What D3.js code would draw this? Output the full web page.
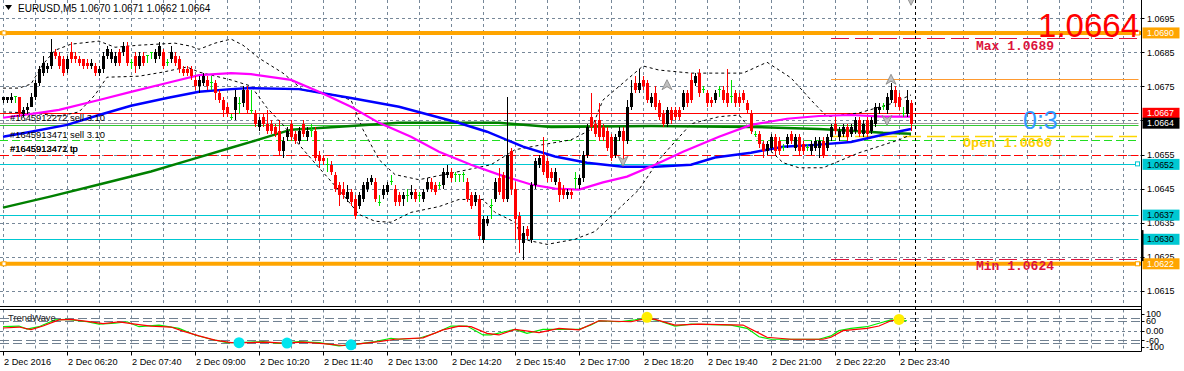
<!DOCTYPE html>
<html>
<head>
<meta charset="utf-8">
<script src="https://cdn.jsdelivr.net/npm/d3@7"></script>
<style>
body { margin: 0; background: #fff; }
svg { display: block; font-family: "Liberation Sans", Arial, sans-serif; }
</style>
</head>
<body>
<svg id="chart"></svg>
<script>
// EURUSD M5, 2 Dec 2016, first bar 05:00 -- [open, high, low, close]
var bars = [
 [1.0671,1.0672,1.0670,1.0672],[1.0671,1.0672,1.0670,1.0672],[1.0671,1.0673,1.0670,1.0672],[1.0672,1.0672,1.0670,1.0672],
 [1.0672,1.0672,1.0666,1.0667],[1.0667,1.0669,1.0666,1.0668],[1.0668,1.0670,1.0667,1.0669],[1.0669,1.0673,1.0669,1.0672],
 [1.0672,1.0677,1.0671,1.0676],[1.0676,1.0681,1.0675,1.0680],[1.0679,1.0684,1.0678,1.0682],[1.0680,1.0682,1.0679,1.0681],
 [1.0681,1.0689,1.0680,1.0685],[1.0685,1.0686,1.0683,1.0684],[1.0684,1.0685,1.0680,1.0681],[1.0683,1.0684,1.0678,1.0679],
 [1.0680,1.0684,1.0679,1.0683],[1.0685,1.0688,1.0682,1.0683],[1.0684,1.0685,1.0682,1.0683],[1.0683,1.0684,1.0681,1.0682],
 [1.0683,1.0683,1.0680,1.0681],[1.0682,1.0683,1.0680,1.0681],[1.0681,1.0683,1.0680,1.0682],[1.0681,1.0682,1.0678,1.0679],
 [1.0679,1.0681,1.0678,1.0680],[1.0680,1.0685,1.0679,1.0684],[1.0684,1.0687,1.0683,1.0686],[1.0683,1.0686,1.0682,1.0685],
 [1.0682,1.0685,1.0681,1.0684],[1.0685,1.0686,1.0681,1.0682],[1.0685,1.0688,1.0684,1.0687],[1.0687,1.0688,1.0681,1.0682],
 [1.0682,1.0683,1.0680,1.0682],[1.0684,1.0685,1.0679,1.0681],[1.0681,1.0685,1.0680,1.0684],[1.0684,1.0685,1.0681,1.0682],
 [1.0684,1.0684,1.0682,1.0684],[1.0685,1.0685,1.0683,1.0685],[1.0683,1.0686,1.0682,1.0685],[1.0684,1.0688,1.0683,1.0687],
 [1.0685,1.0686,1.0680,1.0681],[1.0682,1.0683,1.0681,1.0682],[1.0683,1.0687,1.0682,1.0685],[1.0684,1.0685,1.0681,1.0682],
 [1.0683,1.0684,1.0679,1.0680],[1.0680,1.0681,1.0678,1.0679],[1.0680,1.0681,1.0678,1.0679],[1.0680,1.0681,1.0677,1.0678],
 [1.0677,1.0678,1.0674,1.0675],[1.0675,1.0678,1.0673,1.0677],[1.0676,1.0679,1.0675,1.0678],[1.0677,1.0678,1.0674,1.0675],
 [1.0676,1.0678,1.0674,1.0676],[1.0676,1.0677,1.0671,1.0673],[1.0673,1.0674,1.0670,1.0671],[1.0671,1.0672,1.0666,1.0668],
 [1.0669,1.0670,1.0666,1.0667],[1.0666,1.0667,1.0665,1.0666],[1.0668,1.0674,1.0665,1.0672],[1.0670,1.0672,1.0667,1.0670],
 [1.0670,1.0675,1.0669,1.0674],[1.0674,1.0675,1.0667,1.0668],[1.0668,1.0674,1.0667,1.0668],[1.0667,1.0668,1.0663,1.0664],
 [1.0663,1.0666,1.0662,1.0665],[1.0666,1.0667,1.0663,1.0664],[1.0664,1.0668,1.0661,1.0662],[1.0664,1.0665,1.0661,1.0662],
 [1.0663,1.0664,1.0660,1.0661],[1.0662,1.0665,1.0655,1.0656],[1.0656,1.0660,1.0654,1.0659],[1.0660,1.0663,1.0659,1.0662],
 [1.0664,1.0665,1.0659,1.0660],[1.0661,1.0662,1.0658,1.0659],[1.0659,1.0663,1.0658,1.0662],[1.0664,1.0665,1.0660,1.0661],
 [1.0660,1.0663,1.0659,1.0662],[1.0662,1.0664,1.0660,1.0662],[1.0662,1.0663,1.0653,1.0654],[1.0655,1.0656,1.0651,1.0653],
 [1.0654,1.0655,1.0652,1.0653],[1.0652,1.0654,1.0650,1.0652],[1.0652,1.0653,1.0649,1.0650],[1.0649,1.0650,1.0644,1.0645],
 [1.0646,1.0647,1.0640,1.0643],[1.0645,1.0647,1.0642,1.0643],[1.0642,1.0646,1.0641,1.0644],[1.0644,1.0645,1.0640,1.0641],
 [1.0642,1.0643,1.0636,1.0637],[1.0640,1.0644,1.0639,1.0643],[1.0642,1.0647,1.0641,1.0646],[1.0645,1.0648,1.0644,1.0647],
 [1.0647,1.0649,1.0646,1.0648],[1.0647,1.0648,1.0641,1.0642],[1.0641,1.0643,1.0640,1.0641],[1.0643,1.0646,1.0642,1.0645],
 [1.0644,1.0647,1.0643,1.0646],[1.0647,1.0649,1.0646,1.0647],[1.0645,1.0646,1.0640,1.0641],[1.0643,1.0644,1.0640,1.0641],
 [1.0642,1.0644,1.0640,1.0643],[1.0643,1.0645,1.0641,1.0643],[1.0643,1.0646,1.0642,1.0644],[1.0644,1.0645,1.0641,1.0642],
 [1.0643,1.0644,1.0641,1.0643],[1.0642,1.0645,1.0641,1.0644],[1.0645,1.0648,1.0644,1.0647],[1.0647,1.0648,1.0644,1.0645],
 [1.0646,1.0647,1.0643,1.0644],[1.0646,1.0647,1.0645,1.0646],[1.0646,1.0651,1.0645,1.0650],[1.0649,1.0652,1.0648,1.0650],
 [1.0650,1.0651,1.0647,1.0648],[1.0649,1.0650,1.0647,1.0649],[1.0649,1.0649,1.0647,1.0649],[1.0649,1.0650,1.0647,1.0649],
 [1.0647,1.0648,1.0641,1.0642],[1.0643,1.0644,1.0639,1.0640],[1.0641,1.0644,1.0640,1.0643],[1.0642,1.0643,1.0630,1.0631],
 [1.0630,1.0637,1.0629,1.0636],[1.0635,1.0637,1.0634,1.0636],[1.0640,1.0642,1.0636,1.0640],[1.0642,1.0648,1.0641,1.0647],
 [1.0648,1.0651,1.0643,1.0644],[1.0649,1.0650,1.0641,1.0642],[1.0642,1.0672,1.0641,1.0655],[1.0656,1.0657,1.0643,1.0645],
 [1.0645,1.0647,1.0630,1.0636],[1.0637,1.0638,1.0626,1.0630],[1.0629,1.0634,1.0624,1.0632],[1.0633,1.0634,1.0630,1.0631],
 [1.0630,1.0647,1.0629,1.0646],[1.0646,1.0654,1.0645,1.0653],[1.0652,1.0655,1.0651,1.0654],[1.0655,1.0660,1.0649,1.0650],
 [1.0653,1.0654,1.0647,1.0648],[1.0650,1.0651,1.0647,1.0648],[1.0647,1.0651,1.0646,1.0650],[1.0647,1.0648,1.0641,1.0643],
 [1.0645,1.0646,1.0642,1.0643],[1.0643,1.0645,1.0642,1.0644],[1.0644,1.0645,1.0642,1.0643],[1.0648,1.0650,1.0645,1.0648],
 [1.0646,1.0649,1.0645,1.0648],[1.0648,1.0656,1.0647,1.0655],[1.0655,1.0664,1.0654,1.0663],[1.0666,1.0673,1.0662,1.0663],
 [1.0664,1.0665,1.0660,1.0661],[1.0665,1.0670,1.0659,1.0660],[1.0663,1.0664,1.0659,1.0660],[1.0662,1.0663,1.0656,1.0657],
 [1.0660,1.0661,1.0653,1.0654],[1.0655,1.0661,1.0654,1.0660],[1.0660,1.0663,1.0659,1.0662],[1.0662,1.0663,1.0653,1.0659],
 [1.0659,1.0671,1.0658,1.0669],[1.0669,1.0677,1.0668,1.0673],[1.0676,1.0678,1.0673,1.0674],[1.0674,1.0680,1.0673,1.0676],
 [1.0677,1.0678,1.0674,1.0675],[1.0676,1.0677,1.0670,1.0671],[1.0670,1.0673,1.0669,1.0672],[1.0673,1.0675,1.0668,1.0669],
 [1.0670,1.0671,1.0665,1.0666],[1.0667,1.0668,1.0663,1.0664],[1.0664,1.0669,1.0663,1.0668],[1.0668,1.0669,1.0664,1.0665],
 [1.0668,1.0669,1.0665,1.0666],[1.0668,1.0669,1.0665,1.0666],[1.0669,1.0674,1.0668,1.0673],[1.0673,1.0674,1.0669,1.0670],
 [1.0677,1.0679,1.0670,1.0671],[1.0676,1.0679,1.0675,1.0678],[1.0679,1.0680,1.0672,1.0673],[1.0674,1.0675,1.0673,1.0674],
 [1.0673,1.0674,1.0669,1.0670],[1.0671,1.0672,1.0669,1.0670],[1.0671,1.0674,1.0670,1.0673],[1.0674,1.0675,1.0672,1.0674],
 [1.0674,1.0675,1.0670,1.0671],[1.0673,1.0680,1.0669,1.0670],[1.0672,1.0677,1.0670,1.0672],[1.0673,1.0674,1.0669,1.0670],
 [1.0672,1.0673,1.0669,1.0670],[1.0673,1.0674,1.0670,1.0671],[1.0670,1.0671,1.0667,1.0668],[1.0667,1.0668,1.0661,1.0662],
 [1.0661,1.0662,1.0660,1.0661],[1.0661,1.0662,1.0657,1.0658],[1.0658,1.0659,1.0654,1.0656],[1.0656,1.0659,1.0655,1.0658],
 [1.0657,1.0661,1.0656,1.0660],[1.0660,1.0661,1.0655,1.0656],[1.0659,1.0660,1.0655,1.0656],[1.0657,1.0658,1.0656,1.0657],
 [1.0658,1.0661,1.0657,1.0660],[1.0661,1.0662,1.0658,1.0659],[1.0657,1.0661,1.0656,1.0660],[1.0660,1.0661,1.0655,1.0656],
 [1.0658,1.0659,1.0655,1.0656],[1.0657,1.0658,1.0656,1.0657],[1.0656,1.0659,1.0655,1.0658],[1.0657,1.0660,1.0656,1.0659],
 [1.0657,1.0660,1.0654,1.0659],[1.0659,1.0660,1.0654,1.0655],[1.0657,1.0661,1.0656,1.0660],[1.0660,1.0664,1.0659,1.0663],
 [1.0664,1.0666,1.0661,1.0662],[1.0660,1.0663,1.0659,1.0662],[1.0661,1.0664,1.0660,1.0663],[1.0663,1.0664,1.0659,1.0660],
 [1.0661,1.0664,1.0660,1.0663],[1.0662,1.0666,1.0661,1.0665],[1.0665,1.0666,1.0660,1.0661],[1.0661,1.0665,1.0660,1.0664],
 [1.0665,1.0666,1.0660,1.0661],[1.0662,1.0666,1.0661,1.0665],[1.0664,1.0670,1.0663,1.0669],[1.0668,1.0670,1.0667,1.0669],
 [1.0669,1.0670,1.0668,1.0669],[1.0668,1.0673,1.0667,1.0672],[1.0671,1.0676,1.0670,1.0674],[1.0674,1.0675,1.0669,1.0670],
 [1.0672,1.0673,1.0668,1.0669],[1.0667,1.0669,1.0666,1.0667],[1.0667,1.0674,1.0666,1.0671],[1.0670,1.0671,1.0662,1.0664]
];

var timeLabels = ["2 Dec 2016", "2 Dec 06:20", "2 Dec 07:40", "2 Dec 09:00", "2 Dec 10:20",
  "2 Dec 11:40", "2 Dec 13:00", "2 Dec 14:20", "2 Dec 15:40", "2 Dec 17:00", "2 Dec 18:20",
  "2 Dec 19:40", "2 Dec 21:00", "2 Dec 22:20", "2 Dec 23:40"];
var timeLabelBars = [0, 16, 32, 48, 64, 80, 96, 112, 128, 144, 160, 176, 192, 208, 224];
var dayBreakBar = 228;

var priceTicks = [1.0695, 1.0685, 1.0675, 1.0665, 1.0655, 1.0645, 1.0635, 1.0625, 1.0615];

// moving averages and bands, [bar, price]
var maFast = [[0,1.06658],[9,1.06672],[14,1.06681],[24,1.06710],[32,1.06734],[41,1.06760],[49,1.06783],
  [57,1.06789],[62,1.06786],[72,1.06769],[79,1.06734],[87,1.06690],[94,1.06643],[102,1.06602],[109,1.06558],
  [117,1.06520],[124,1.06491],[132,1.06462],[138,1.06450],[144,1.06447],[150,1.06468],[156,1.06485],
  [163,1.06520],[170,1.06558],[179,1.06602],[187,1.06637],[196,1.06655],[204,1.06663],[212,1.06666],
  [220,1.06661],[227,1.06661]];
var maMid = [[0,1.06602],[7,1.06617],[16,1.06637],[24,1.06666],[32,1.06693],[41,1.06716],[49,1.06734],
  [57,1.06742],[62,1.06745],[74,1.06742],[87,1.06716],[99,1.06690],[113,1.06646],[121,1.06617],[130,1.06573],
  [138,1.06544],[146,1.06526],[155,1.06514],[163,1.06514],[172,1.06520],[178,1.06541],[187,1.06555],
  [195,1.06573],[204,1.06579],[212,1.06587],[220,1.06608],[227,1.06625]];
var maSlow = [[0,1.06394],[12,1.06427],[24,1.06462],[37,1.06500],[47,1.06535],[57,1.06570],[62,1.06587],
  [72,1.06623],[87,1.06634],[99,1.06643],[112,1.06643],[124,1.06643],[137,1.06631],[162,1.06634],
  [187,1.06631],[204,1.06625],[212,1.06620],[220,1.06614],[227,1.06611]];
var bbUpper = [[0,1.06745],[4,1.06745],[7,1.06757],[10,1.06815],[13,1.06856],[17,1.06874],[24,1.06883],
  [26,1.06874],[28,1.06865],[34,1.06871],[43,1.06877],[47,1.06868],[49,1.06859],[53,1.06877],[57,1.06889],
  [60,1.06871],[64,1.06833],[70,1.06789],[75,1.06739],[83,1.06725],[87,1.06710],[90,1.06623],[94,1.06535],
  [98,1.06491],[104,1.06476],[114,1.06500],[122,1.06520],[128,1.06564],[135,1.06579],[142,1.06593],
  [147,1.06623],[150,1.06710],[155,1.06760],[160,1.06810],[164,1.06798],[172,1.06789],[185,1.06789],
  [191,1.06821],[197,1.06775],[202,1.06710],[206,1.06661],[214,1.06672],[222,1.06699],[227,1.06725]];
var bbLower = [[0,1.06675],[7,1.06672],[14,1.06663],[19,1.06675],[23,1.06725],[26,1.06777],[34,1.06780],
  [40,1.06792],[46,1.06807],[49,1.06792],[57,1.06769],[62,1.06751],[66,1.06687],[70,1.06637],[74,1.06579],
  [79,1.06511],[85,1.06432],[89,1.06374],[93,1.06354],[97,1.06351],[102,1.06380],[109,1.06397],[114,1.06418],
  [120,1.06418],[123,1.06380],[128,1.06351],[130,1.06301],[136,1.06286],[143,1.06301],[148,1.06324],
  [153,1.06380],[159,1.06447],[164,1.06535],[172,1.06640],[179,1.06661],[184,1.06666],[189,1.06593],
  [195,1.06526],[199,1.06511],[205,1.06511],[214,1.06555],[224,1.06593],[227,1.06608]];

// TrendWave sub window, [bar, value]
var twGreen = [[0,23],[4,27],[6,9],[9,23],[13,64],[16,67],[21,53],[24,39],[28,44],[31,53],[34,23],[39,33],
  [44,13],[48,-27],[52,-53],[56,-74],[59,-74],[65,-67],[69,-78],[74,-67],[79,-74],[84,-93],[88,-84],[93,-67],
  [97,-47],[99,-53],[104,-47],[108,-17],[112,27],[116,27],[120,-27],[122,-27],[128,7],[131,-17],[135,7],
  [144,7],[147,33],[149,59],[154,53],[158,64],[161,74],[164,59],[168,27],[172,39],[182,33],[186,13],
  [189,-38],[192,-53],[204,-53],[207,-33],[209,-1],[212,13],[216,23],[219,44],[222,64],[226,59]];
var twRed = [[0,15],[4,21],[7,6],[10,27],[14,64],[17,67],[22,52],[25,42],[29,52],[33,39],[37,27],[42,21],
  [45,-4],[49,-33],[53,-58],[57,-73],[62,-73],[66,-70],[70,-76],[75,-70],[80,-79],[85,-91],[89,-81],[94,-67],
  [98,-53],[105,-45],[110,4],[114,27],[117,23],[121,-17],[124,-27],[128,7],[134,-13],[139,13],[144,4],
  [149,59],[157,53],[161,74],[163,67],[168,33],[174,39],[185,33],[191,-41],[197,-53],[205,-53],[207,-41],
  [210,-1],[216,13],[219,27],[222,59],[224,64]];
var twLevels = [73, 60, -60, -73];
var twLabels = ["100", "60", "0.00", "-60", "-100"];
var twLabelValues = [100, 60, 0, -60, -100];
var twBuyDots = [[59,-74],[71,-76],[87,-87]];
var twSellDots = [[161,80],[224,67]];

// horizontal objects
var orangeLevels = [1.06907, 1.06229];
var cyanLevels = [1.06521, 1.06372, 1.06301];
var redLevels = [1.06671];
var bidLevels = [1.06642];
var greenLevels = [1.06638];
var greenDashLevels = [1.06593];
var redDashLevels = [1.06550];
var targetLevels = [1.06772];
var dayMax = 1.06892, dayMin = 1.06243, dayOpen = 1.06604;
var statsFromBar = 207;
var orderLabels = ["#1645912272 sell 3.10", "#1645913471 sell 3.10", "#1645912472 tp", "#1645913471 tp"];
var orderLabelPrices = [1.06648, 1.06598, 1.06557, 1.06557];
var score = "0:3";
var lastQuote = [1.0670, 1.0671, 1.0662, 1.0664];
var arrowsUp = [[166, 1.06755], [222, 1.06771]];
var arrowsDown = [[155, 1.06530], [221, 1.06650], [227, 1.07003]];
var spreadBar = [1.06328, 1.06237];

function fmt(p) {
    return (Math.floor(p * 10000 + 1e-6) / 10000).toFixed(4);
}

function draw() {
    var w = 1184, h = 371;
    var right = 1141.5, mainBottom = 306.5, subTop = 309.5, subBottom = 351.5;
    var svg = d3.select("#chart").attr("width", w).attr("height", h);

    var x = d3.scaleLinear().domain([0, 227]).range([3, 911]);
    var y = d3.scaleLinear().domain([1.0615, 1.0695]).range([290.7, 18.3]);
    var ys = d3.scaleLinear().domain([-100, 100]).range([347, 314]);

    var defs = svg.append("defs");
    defs.append("clipPath").attr("id", "clipMain")
        .append("rect").attr("x", 0).attr("y", 0).attr("width", right).attr("height", mainBottom);
    defs.append("clipPath").attr("id", "clipSub")
        .append("rect").attr("x", 0).attr("y", subTop).attr("width", right).attr("height", subBottom - subTop);

    var main = svg.append("g").attr("clip-path", "url(#clipMain)");
    var sub = svg.append("g").attr("clip-path", "url(#clipSub)");

    // grid
    var gridBars = d3.range(0, 285, 8);
    main.selectAll(".vgrid").data(gridBars).enter().append("line")
        .attr("x1", function(d) { return Math.round(x(d)) + 0.5; })
        .attr("x2", function(d) { return Math.round(x(d)) + 0.5; })
        .attr("y1", 0).attr("y2", mainBottom)
        .attr("stroke", "#778899").attr("stroke-dasharray", "3,3");
    main.selectAll(".hgrid").data(priceTicks).enter().append("line")
        .attr("x1", 0).attr("x2", right)
        .attr("y1", function(d) { return Math.round(y(d)) + 0.5; })
        .attr("y2", function(d) { return Math.round(y(d)) + 0.5; })
        .attr("stroke", "#778899").attr("stroke-dasharray", "3,3");
    sub.selectAll(".vgrid").data(gridBars).enter().append("line")
        .attr("x1", function(d) { return Math.round(x(d)) + 0.5; })
        .attr("x2", function(d) { return Math.round(x(d)) + 0.5; })
        .attr("y1", subTop).attr("y2", subBottom)
        .attr("stroke", "#778899").attr("stroke-dasharray", "3,3");

    // horizontal level lines
    function hline(g, p, color, width, dash, x0) {
        var yy = Math.round(y(p)) + 0.5;
        var l = g.append("line").attr("x1", x0 || 0).attr("x2", right - 3)
            .attr("y1", yy).attr("y2", yy)
            .attr("stroke", color).attr("stroke-width", width);
        if (dash) l.attr("stroke-dasharray", dash);
        return l;
    }
    cyanLevels.forEach(function(p) { hline(main, p, "#00c8d2", 1.2); });
    redDashLevels.forEach(function(p) { hline(main, p, "#ff0000", 1.2, "9,4"); });
    greenDashLevels.forEach(function(p) { hline(main, p, "#22dd22", 1.2, "8,4"); });
    redLevels.forEach(function(p) { hline(main, p, "#ff0000", 1.2); });
    bidLevels.forEach(function(p) { hline(main, p, "#9a9a9a", 1); });
    greenLevels.forEach(function(p) { hline(main, p, "#33cc33", 1); });
    targetLevels.forEach(function(p) { hline(main, p, "#ff9a30", 1.2, null, x(statsFromBar)); });
    hline(main, dayMax, "#dc143c", 1.2, "18,6", x(statsFromBar));
    hline(main, dayMin, "#dc143c", 1.2, "18,6", x(statsFromBar));
    hline(main, dayOpen, "#ffd700", 1.5, "18,6", x(statsFromBar));
    orangeLevels.forEach(function(p) {
        main.append("line").attr("x1", 0).attr("x2", right)
            .attr("y1", y(p)).attr("y2", y(p))
            .attr("stroke", "#ffa500").attr("stroke-width", 4);
        [4, right - 4].forEach(function(cx) {
            main.append("rect").attr("x", cx - 2).attr("y", y(p) - 2).attr("width", 4).attr("height", 4)
                .attr("fill", "#fff").attr("stroke", "#ffa500").attr("stroke-width", 1);
        });
    });
    main.append("rect").attr("x", right - 6).attr("y", y(cyanLevels[0]) - 2.5).attr("width", 4).attr("height", 4)
        .attr("fill", "#fff").attr("stroke", "#00c8d2").attr("stroke-width", 1);

    // bollinger bands
    var line = d3.line().x(function(d) { return x(d[0]); }).y(function(d) { return y(d[1]); });
    [bbUpper, bbLower].forEach(function(band) {
        main.append("path").attr("d", line(band)).attr("fill", "none")
            .attr("stroke", "#000").attr("stroke-width", 1).attr("stroke-dasharray", "3,3");
    });

    // moving averages
    main.append("path").attr("d", line(maSlow)).attr("fill", "none").attr("stroke", "#008000").attr("stroke-width", 2.5);
    main.append("path").attr("d", line(maMid)).attr("fill", "none").attr("stroke", "#0000ff").attr("stroke-width", 2.5);
    main.append("path").attr("d", line(maFast)).attr("fill", "none").attr("stroke", "#ff00ff").attr("stroke-width", 2.2);

    // candles
    function candleColor(b) {
        return b[3] > b[0] ? "#000000" : (b[3] < b[0] ? "#ff0000" : "#00e000");
    }
    var cg = main.append("g").attr("shape-rendering", "crispEdges");
    var candle = cg.selectAll(".candle").data(bars).enter().append("g").attr("class", "candle");
    candle.append("line")
        .attr("x1", function(d, i) { return Math.round(x(i)) + 0.5; })
        .attr("x2", function(d, i) { return Math.round(x(i)) + 0.5; })
        .attr("y1", function(d) { return y(d[1]); })
        .attr("y2", function(d) { return y(d[2]); })
        .attr("stroke", candleColor);
    candle.append("rect")
        .attr("x", function(d, i) { return Math.round(x(i)) - 1; })
        .attr("width", 3)
        .attr("y", function(d) { return d[3] === d[0] ? y(d[3]) - 0.5 : y(Math.max(d[0], d[3])); })
        .attr("height", function(d) { return Math.max(1, Math.abs(y(d[0]) - y(d[3]))); })
        .attr("fill", candleColor);

    // trade arrows
    function arrow(d, up) {
        main.append("path").attr("d", "M0,-5 L5,5 L0,2 L-5,5 Z")
            .attr("transform", "translate(" + x(d[0]) + "," + y(d[1]) + ")" + (up ? "" : " rotate(180)"))
            .attr("fill", "#c0c0c0").attr("stroke", "#808080").attr("stroke-width", 0.8);
    }
    arrowsUp.forEach(function(d) { arrow(d, true); });
    arrowsDown.forEach(function(d) { arrow(d, false); });

    // order labels
    main.selectAll(".order").data(orderLabels).enter().append("text")
        .attr("x", 10).attr("y", function(d, i) { return y(orderLabelPrices[i]); })
        .attr("font-size", "9.4px").attr("fill", "#000").text(function(d) { return d; });

    // statistic texts
    var mono = "'Liberation Mono', 'Courier New', monospace";
    main.append("text").attr("x", 976).attr("y", y(dayMax) + 11.5)
        .attr("font-family", mono).attr("font-weight", "bold").attr("font-size", "13px")
        .attr("fill", "#dc143c").text("Max " + fmt(dayMax));
    main.append("text").attr("x", 976).attr("y", y(dayMin) + 10.5)
        .attr("font-family", mono).attr("font-weight", "bold").attr("font-size", "13px")
        .attr("fill", "#dc143c").text("Min " + fmt(dayMin));
    main.append("text").attr("x", 963).attr("y", y(dayOpen) + 10.5)
        .attr("font-family", mono).attr("font-weight", "bold").attr("font-size", "13.5px")
        .attr("fill", "#ffd000").text("Open " + fmt(dayOpen));
    main.append("text").attr("x", 1023).attr("y", 129)
        .attr("font-size", "25px").attr("fill", "#3399ff").text(score);
    main.append("text").attr("x", 1139).attr("y", 36.5).attr("text-anchor", "end")
        .attr("font-size", "33px").attr("fill", "#ff0000").text(d3.format(".4f")(lastQuote[3]));

    // title
    svg.append("path").attr("d", "M5,5 L12,5 L8.5,10 Z").attr("fill", "#000");
    svg.append("text").attr("x", 18).attr("y", 11.5).attr("font-size", "10px").attr("fill", "#000")
        .text("EURUSD,M5 " + lastQuote.map(d3.format(".4f")).join(" "));

    // sub window
    twLevels.forEach(function(v) {
        sub.append("line").attr("x1", 0).attr("x2", right)
            .attr("y1", Math.round(ys(v)) + 0.5).attr("y2", Math.round(ys(v)) + 0.5)
            .attr("stroke", "#708090").attr("stroke-dasharray", "9,4");
    });
    sub.append("line").attr("x1", 0).attr("x2", right)
        .attr("y1", Math.round(ys(0)) + 0.5).attr("y2", Math.round(ys(0)) + 0.5)
        .attr("stroke", "#708090").attr("stroke-dasharray", "3,3");
    var sline = d3.line().x(function(d) { return x(d[0]); }).y(function(d) { return ys(d[1]); });
    sub.append("path").attr("d", sline(twGreen)).attr("fill", "none").attr("stroke", "#00ee00").attr("stroke-width", 1.2);
    sub.append("path").attr("d", sline(twRed)).attr("fill", "none").attr("stroke", "#ff0000").attr("stroke-width", 1.2);
    sub.selectAll(".buy").data(twBuyDots).enter().append("circle")
        .attr("cx", function(d) { return x(d[0]); }).attr("cy", function(d) { return ys(d[1]); })
        .attr("r", 5.5).attr("fill", "#00e5ee");
    sub.selectAll(".sell").data(twSellDots).enter().append("circle")
        .attr("cx", function(d) { return x(d[0]); }).attr("cy", function(d) { return ys(d[1]); })
        .attr("r", 5.5).attr("fill", "#ffee00");
    svg.append("text").attr("x", 8).attr("y", 321).attr("font-size", "9.4px").attr("fill", "#222").text("TrendWave");

    // day separator
    svg.append("line").attr("x1", Math.round(x(dayBreakBar)) + 0.5).attr("x2", Math.round(x(dayBreakBar)) + 0.5)
        .attr("y1", 0).attr("y2", subBottom)
        .attr("stroke", "#000").attr("stroke-dasharray", "3,3");

    // frames
    svg.append("line").attr("x1", 0).attr("x2", right).attr("y1", mainBottom).attr("y2", mainBottom).attr("stroke", "#000");
    svg.append("line").attr("x1", 0).attr("x2", right).attr("y1", subTop).attr("y2", subTop).attr("stroke", "#000");
    svg.append("line").attr("x1", 0).attr("x2", right).attr("y1", subBottom).attr("y2", subBottom).attr("stroke", "#000");
    svg.append("line").attr("x1", right).attr("x2", right).attr("y1", 0).attr("y2", subBottom).attr("stroke", "#000");

    // price axis; a tick label fully hidden under the bid box is not drawn
    svg.selectAll(".ptick").data(priceTicks).enter().append("line")
        .attr("x1", right).attr("x2", right + 3)
        .attr("y1", function(d) { return Math.round(y(d)) + 0.5; })
        .attr("y2", function(d) { return Math.round(y(d)) + 0.5; })
        .attr("stroke", "#000");
    var shown = priceTicks.filter(function(p) { return Math.abs(y(p) - y(bidLevels[0])) > 5; });
    svg.selectAll(".plabel").data(shown).enter().append("text")
        .attr("x", 1147).attr("y", function(d) { return y(d) + 3.3; })
        .attr("font-size", "9px").attr("fill", "#000").text(d3.format(".4f"));

    function box(p, fill, color) {
        var yy = y(p);
        svg.append("rect").attr("x", right + 1).attr("y", yy - 5.5).attr("width", 37).attr("height", 11).attr("fill", fill);
        svg.append("text").attr("x", 1147).attr("y", yy + 3.2).attr("font-size", "8.8px").attr("fill", color).text(fmt(p));
    }
    orangeLevels.forEach(function(p) { box(p, "#ffa500", "#fff"); });
    cyanLevels.forEach(function(p) { box(p, "#00c8d2", "#000"); });
    redLevels.forEach(function(p) { box(p, "#ff0000", "#fff"); });
    bidLevels.forEach(function(p) { box(p, "#000", "#fff"); });
    svg.append("rect").attr("x", right - 0.5).attr("y", y(spreadBar[0]))
        .attr("width", 2.5).attr("height", y(spreadBar[1]) - y(spreadBar[0])).attr("fill", "#000");

    // sub axis labels
    svg.selectAll(".slabel").data(twLabels).enter().append("text")
        .attr("x", 1146).attr("y", function(d, i) { return ys(twLabelValues[i]) + 3.3; })
        .attr("font-size", "9px").attr("fill", "#000").text(function(d) { return d; });
    svg.selectAll(".stick").data(twLabelValues).enter().append("line")
        .attr("x1", right).attr("x2", right + 3)
        .attr("y1", function(d) { return Math.round(ys(d)) + 0.5; })
        .attr("y2", function(d) { return Math.round(ys(d)) + 0.5; })
        .attr("stroke", "#000");

    // time axis
    svg.selectAll(".ttick").data(timeLabelBars).enter().append("line")
        .attr("x1", function(d) { return Math.round(x(d)) + 0.5; })
        .attr("x2", function(d) { return Math.round(x(d)) + 0.5; })
        .attr("y1", subBottom).attr("y2", subBottom + 4)
        .attr("stroke", "#000");
    svg.selectAll(".tlabel").data(timeLabels).enter().append("text")
        .attr("x", function(d, i) { return x(timeLabelBars[i]) + 1; })
        .attr("y", 365)
        .attr("font-size", "9.2px").attr("fill", "#000").text(function(d) { return d; });
}

draw();
</script>
</body>
</html>
